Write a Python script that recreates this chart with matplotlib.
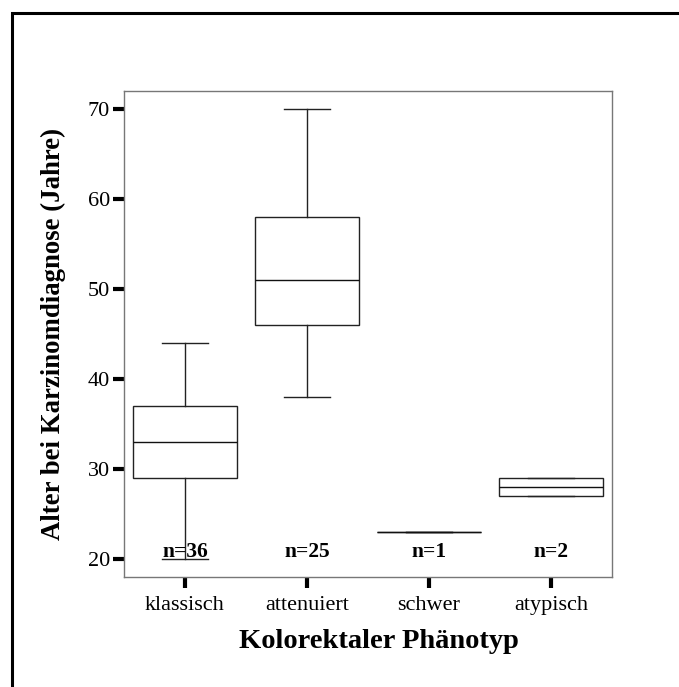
import matplotlib.pyplot as plt
from matplotlib.patches import Rectangle

# Age at colorectal cancer diagnosis by phenotype
categories = ["klassisch", "attenuiert", "schwer", "atypisch"]
n_counts = [36, 25, 1, 2]
whisker_low = [20, 38, 23, 27]
q1 = [29, 46, 23, 27]
median = [33, 51, 23, 28]
q3 = [37, 58, 23, 29]
whisker_high = [44, 70, 23, 29]
y_ticks = [20, 30, 40, 50, 60, 70]

plt.rcParams['font.family'] = ['Liberation Serif', 'DejaVu Serif']

fig = plt.figure(figsize=(6.79, 6.87), dpi=100)
ax = fig.add_axes([0.1826, 0.1601, 0.7187, 0.7074])

stats = []
for i, name in enumerate(categories):
    stats.append({
        "label": name,
        "whislo": whisker_low[i],
        "q1": q1[i],
        "med": median[i],
        "q3": q3[i],
        "whishi": whisker_high[i],
        "fliers": [],
    })

positions = list(range(len(categories)))
line_kw = dict(color="#222222", linewidth=1.0)
ax.bxp(stats, positions=positions, widths=0.85, capwidths=0.37,
       patch_artist=True, showfliers=False,
       boxprops=dict(facecolor="white", edgecolor="#222222", linewidth=1.0),
       medianprops=dict(color="#111111", linewidth=1.0),
       whiskerprops=line_kw, capprops=line_kw)

# sample sizes under each box
for x, n in zip(positions, n_counts):
    ax.text(x, 20.8, f"n={n}", ha="center", va="center",
            fontsize=15.5, fontweight="bold", zorder=5)

ax.set_xlim(-0.5, 3.5)
ax.set_ylim(18, 72)
ax.set_yticks(y_ticks)
ax.set_xticks(positions)
ax.set_xticklabels(categories)

for spine in ax.spines.values():
    spine.set_color("#777777")
    spine.set_linewidth(1.0)

ax.tick_params(axis="both", direction="out", length=8, width=3,
               color="black", labelsize=16)
ax.tick_params(axis="x", pad=6)
ax.tick_params(axis="y", pad=2)

ax.set_xlabel("Kolorektaler Phänotyp", fontsize=20.5, fontweight="bold",
              labelpad=10)
ax.xaxis.label.set_x(0.522)
ax.set_ylabel("Alter bei Karzinomdiagnose (Jahre)", fontsize=19.3,
              fontweight="bold", labelpad=16)

# frame around the whole chart
fig.patches.append(Rectangle((12 / 679, -0.05), 1.1, 1 + 0.05 - 13 / 687,
                             transform=fig.transFigure, fill=False,
                             edgecolor="black", linewidth=2.2))

fig.savefig("out.png", dpi=100)
